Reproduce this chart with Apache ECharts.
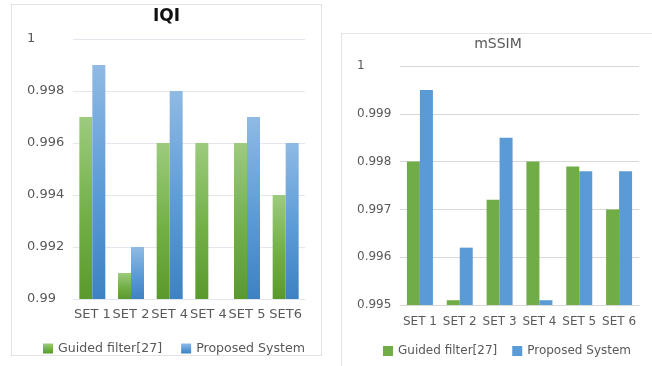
<!DOCTYPE html>
<html>
<head>
<meta charset="utf-8">
<script src="https://cdn.jsdelivr.net/npm/echarts@6/dist/echarts.min.js"></script>
<style>
  html, body { margin: 0; padding: 0; background: #fff; }
  body { width: 652px; height: 366px; position: relative; overflow: hidden; }
  .panel { position: absolute; box-sizing: border-box; border: 1px solid #e3e3e3; background: #fff; }
  #iqi { left: 11px; top: 4px; width: 311px; height: 352px; }
  #mssim { left: 341px; top: 33px; width: 312px; height: 340px; border-right: none; border-bottom: none; }
</style>
</head>
<body>
<div id="iqi" class="panel"></div>
<div id="mssim" class="panel"></div>
<script>
// IQI chart data
const iqiCategories = ['SET 1', 'SET 2', 'SET 4', 'SET 4', 'SET 5', 'SET6'];
const iqiGuided = [0.997, 0.991, 0.996, 0.996, 0.996, 0.994];
const iqiProposed = [0.999, 0.992, 0.998, null, 0.997, 0.996];

// mSSIM chart data
const mssimCategories = ['SET 1', 'SET 2', 'SET 3', 'SET 4', 'SET 5', 'SET 6'];
const mssimGuided = [0.998, 0.9951, 0.9972, 0.998, 0.9979, 0.997];
const mssimProposed = [0.9995, 0.9962, 0.9985, 0.9951, 0.9978, 0.9978];

const seriesNames = ['Guided filter[27]', 'Proposed System'];

const FONT = 'DejaVu Sans';
const TEXT = '#595959';

function vGrad(top, mid, bottom) {
  return {
    type: 'linear', x: 0, y: 0, x2: 0, y2: 1,
    colorStops: [
      { offset: 0, color: top },
      { offset: 0.55, color: mid },
      { offset: 1, color: bottom }
    ]
  };
}

// Left: IQI with gradient-filled bars
const iqi = echarts.init(document.getElementById('iqi'), null, { renderer: 'canvas' });
iqi.setOption({
  animation: false,
  textStyle: { fontFamily: FONT },
  title: {
    text: 'IQI', left: 'center', top: 3, padding: 0,
    textStyle: { fontFamily: FONT, fontSize: 17, fontWeight: 'bold', color: '#111' }
  },
  legend: {
    left: 31, top: 337, width: 300, padding: 0,
    itemWidth: 10, itemHeight: 10, itemGap: 19,
    icon: 'rect',
    textStyle: { fontFamily: FONT, fontSize: 12.6, color: TEXT },
    data: seriesNames
  },
  grid: { left: 61, right: 16, top: 34, height: 260 },
  xAxis: {
    type: 'category', data: iqiCategories,
    axisLine: { lineStyle: { color: '#e3e6ec' } },
    axisTick: { show: false },
    axisLabel: { fontFamily: FONT, fontSize: 13, color: TEXT, margin: 9, interval: 0 }
  },
  yAxis: {
    type: 'value', min: 0.99, max: 1, interval: 0.002,
    axisLine: { show: false }, axisTick: { show: false },
    splitLine: { lineStyle: { color: '#e3e6ec' } },
    axisLabel: {
      fontFamily: FONT, fontSize: 13, color: TEXT, align: 'left', margin: 46,
      formatter: v => String(+v.toFixed(3))
    }
  },
  series: [
    {
      name: seriesNames[0], type: 'bar', data: iqiGuided, barWidth: 13, barGap: '0%',
      itemStyle: { color: vGrad('#9dcb7e', '#72b046', '#5a9a2c') }
    },
    {
      name: seriesNames[1], type: 'bar', data: iqiProposed, barWidth: 13,
      itemStyle: { color: vGrad('#8fbae4', '#5b9bd6', '#3e82c3') }
    }
  ]
});

// Right: mSSIM with solid bars
const mssim = echarts.init(document.getElementById('mssim'), null, { renderer: 'canvas' });
mssim.setOption({
  animation: false,
  textStyle: { fontFamily: FONT },
  title: {
    text: 'mSSIM', left: 156, textAlign: 'center', top: 3, padding: 0,
    textStyle: { fontFamily: FONT, fontSize: 14, fontWeight: 'normal', color: TEXT }
  },
  legend: {
    left: 41, top: 311, width: 300, padding: 0,
    itemWidth: 10, itemHeight: 10, itemGap: 15,
    icon: 'rect',
    textStyle: { fontFamily: FONT, fontSize: 12, color: TEXT },
    data: seriesNames
  },
  grid: { left: 58, right: 14, top: 32, height: 239 },
  xAxis: {
    type: 'category', data: mssimCategories,
    axisLine: { lineStyle: { color: '#d9d9d9' } },
    axisTick: { show: false },
    axisLabel: { fontFamily: FONT, fontSize: 12, color: TEXT, margin: 11, interval: 0 }
  },
  yAxis: {
    type: 'value', min: 0.995, max: 1, interval: 0.001,
    axisLine: { show: false }, axisTick: { show: false },
    splitLine: { lineStyle: { color: '#d9d9d9' } },
    axisLabel: {
      fontFamily: FONT, fontSize: 12, color: TEXT, align: 'left', margin: 43,
      formatter: v => String(+v.toFixed(3))
    }
  },
  series: [
    {
      name: seriesNames[0], type: 'bar', data: mssimGuided, barWidth: 13, barGap: '0%',
      itemStyle: { color: '#70ad47' }
    },
    {
      name: seriesNames[1], type: 'bar', data: mssimProposed, barWidth: 13,
      itemStyle: { color: '#5b9bd5' }
    }
  ]
});
</script>
</body>
</html>
